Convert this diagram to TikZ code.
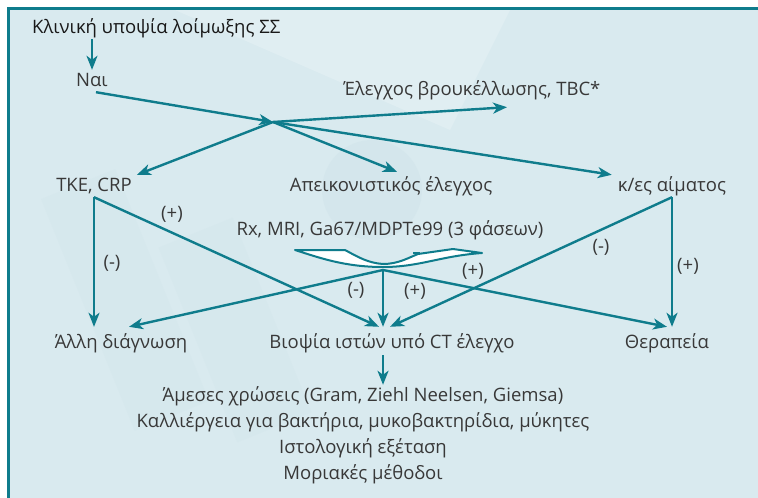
\documentclass[tikz,border=0pt]{standalone}
\usepackage{fontspec}
\setmainfont{Open Sans}
\usetikzlibrary{arrows.meta}
\definecolor{tealline}{HTML}{0F7C8C}
\definecolor{paneblue}{HTML}{D9EAEF}
\definecolor{shadeblue}{HTML}{D0E4EA}
\definecolor{inkgray}{HTML}{383838}
\begin{document}
\begin{tikzpicture}[x=1pt,y=-1pt,
        every node/.style={font=\fontsize{18.5}{22}\selectfont, text=inkgray, text height=14pt, text depth=4pt, inner sep=2pt, anchor=base},
        link/.style={draw=tealline, line width=2.4pt},
        arr/.style={link, -{Stealth[length=14pt,width=11pt,inset=4pt]}},
        rowbox/.style={inner ysep=7pt},
        sign/.style={anchor=center, text height=12pt, text depth=3pt}]
        \useasboundingbox (0,0) rectangle (758,498);
        \fill[white] (0,0) rectangle (758,498);
        \fill[paneblue] (9,9) rectangle (758,498);
        % faint background marks
        \fill[white, opacity=0.2] (175,10) -- (510,10) -- (450,130) -- cycle;
        \fill[shadeblue, opacity=0.5] (372,190) circle (50);
        \fill[shadeblue, opacity=0.3, rotate around={22:(125,300)}] (85,175) rectangle (165,425);
        \fill[shadeblue, opacity=0.3, rotate around={22:(235,330)}] (195,225) rectangle (275,435);
        \draw[tealline, line width=2.6pt] (758,8.5) -- (8.5,8.5) -- (8.5,498);

        \node[text=black!90, anchor=base west] (title) at (30,33) {Κλινική υποψία λοίμωξης ΣΣ};
        \node (nai) at (92,86) {Ναι};
        \node (brucella) at (472,95) {Έλεγχος βρουκέλλωσης, TBC*};
        \node (tke) at (94,191) {ΤΚΕ, CRP};
        \node (imaging) at (391,191) {Απεικονιστικός έλεγχος};
        \node (blood) at (672,191) {κ/ες αίματος};
        \node (rx) at (390,235) {Rx, MRI, Ga67/MDPTe99 (3 φάσεων)};
        \node[rowbox] (other) at (121,348) {Άλλη διάγνωση};
        \node[rowbox] (biopsy) at (392,348) {Βιοψία ιστών υπό CT έλεγχο};
        \node[rowbox] (therapy) at (667,348) {Θεραπεία};
        \foreach \i/\txt in {1/Άμεσες χρώσεις (Gram{,} Ziehl Neelsen{,} Giemsa),
                2/Καλλιέργεια για βακτήρια{,} μυκοβακτηρίδια{,} μύκητες,
                3/Ιστολογική εξέταση, 4/Μοριακές μέθοδοι}
            \node (method\i) at (363,375+26*\i) {\txt};

        \coordinate (fork) at (273,122);
        \coordinate (knot) at (383,270);

        \draw[arr] (nai.north |- title.south) -- (nai.north);
        \draw[arr] ([xshift=4pt]nai.south) -- (fork);
        \draw[arr] (fork) -- ([xshift=35pt,yshift=-6pt]brucella.south);
        \draw[arr] (fork) -- ([xshift=3pt]tke.north east);
        \draw[arr] (fork) -- ([xshift=6pt,yshift=3pt]imaging.north);
        \draw[arr] (fork) -- ([xshift=-4pt]blood.north west);

        \draw[arr] (tke.south) -- (tke.south |- other.north);
        \draw[arr] (tke.south) -- ([xshift=-13pt]biopsy.north);
        \draw[arr] (blood.south) -- (blood.south |- therapy.north);
        \draw[arr] (blood.south) -- ([xshift=-2pt]biopsy.north);

        % bracket under the imaging methods
        \filldraw[link, line width=2pt, fill=white, line join=round]
            (295,250) -- (345,250) .. controls (358,257) and (368,263) .. (383,264)
            .. controls (398,264) and (408,258) .. (418,254) -- (453,249) -- (482,253)
            .. controls (440,256) and (420,267) .. (383,267)
            .. controls (345,267) and (320,258) .. (295,250) -- cycle;
        \draw[link, line width=2pt] (413,253) -- (420,253);

        \draw[arr] (knot) -- ([xshift=8pt]other.north);
        \draw[arr] (knot) -- (knot |- biopsy.north);
        \draw[arr] (knot) -- (therapy.north);
        \draw[arr] ([yshift=4pt]knot |- biopsy.south) -- (knot |- method1.north);

        \foreach \i/\x/\y/\s in {1/172/215/+, 2/112/264/-, 3/356/291/-, 4/415/292/+,
                5/473/272/+, 6/601/248/-, 7/688/267/+}
            \node[sign] (sign\i) at (\x,\y) {(\s)};
    \end{tikzpicture}
\end{document}
